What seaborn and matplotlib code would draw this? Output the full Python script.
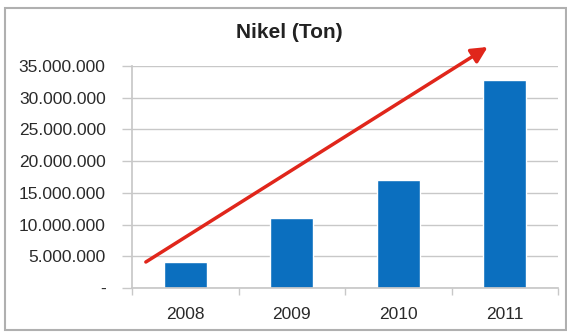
import matplotlib
matplotlib.use("Agg")
import matplotlib.pyplot as plt
import seaborn as sns
import pandas as pd
from matplotlib.patches import Rectangle
from matplotlib.ticker import FuncFormatter

years = ["2008", "2009", "2010", "2011"]
values = [4100000, 11000000, 17000000, 32800000]
trend_start = (-0.37, 4100000)
trend_end = (2.84, 38000000)

sns.set_theme(style="white")
plt.rcParams['font.family'] = ['Liberation Sans', 'DejaVu Sans']

fig = plt.figure(figsize=(5.67, 3.32), dpi=100)
ax = fig.add_axes([132/567, 1 - 288/332, 426/567, 222/332])

df = pd.DataFrame({"year": years, "value": values})
sns.barplot(data=df, x="year", y="value", color="#0b6fbf", saturation=1, width=0.4, ax=ax)

ax.set_ylim(0, 35000000)
ax.set_xlim(-0.5, 3.5)
ax.set_yticks(range(0, 35000001, 5000000))
ax.yaxis.set_major_formatter(FuncFormatter(lambda v, p: "-" if v == 0 else f"{int(v):,}".replace(",", ".")))
ax.grid(axis="y", color="#c8c8c8", linewidth=1)
ax.set_axisbelow(True)
for s in ["top", "right"]:
    ax.spines[s].set_visible(False)
ax.spines["left"].set_color("#c8c8c8")
ax.spines["bottom"].set_color("#c8c8c8")
ax.set_xlabel("")
ax.set_ylabel("")
ax.tick_params(axis="y", labelsize=12.5, length=7, width=1, pad=12, left=True, color="#c8c8c8", labelcolor="#2a2a2a")
ax.tick_params(axis="x", labelsize=12.5, labelcolor="#2a2a2a", length=0, pad=14)
ax.set_xticks([-0.5, 0.5, 1.5, 2.5, 3.5], minor=True)
ax.tick_params(axis="x", which="minor", length=5, color="#c8c8c8", bottom=True, direction="out")

ax.annotate("", xy=trend_end, xytext=trend_start, xycoords="data", textcoords="data",
            annotation_clip=False,
            arrowprops=dict(arrowstyle="-|>,head_length=0.8,head_width=0.4", color="#e0261b", lw=2.5,
                            shrinkA=0, shrinkB=0))

fig.text(289/567, 1 - 32/332, "Nikel (Ton)", ha="center", va="center", fontsize=15, fontweight="bold", color="#222222")
fig.patches.append(Rectangle((5/567, 2/332), 561/567, 322/332, transform=fig.transFigure,
                             fill=False, edgecolor="#b0b0b0", linewidth=1.5))

fig.savefig("out.png", dpi=100)
